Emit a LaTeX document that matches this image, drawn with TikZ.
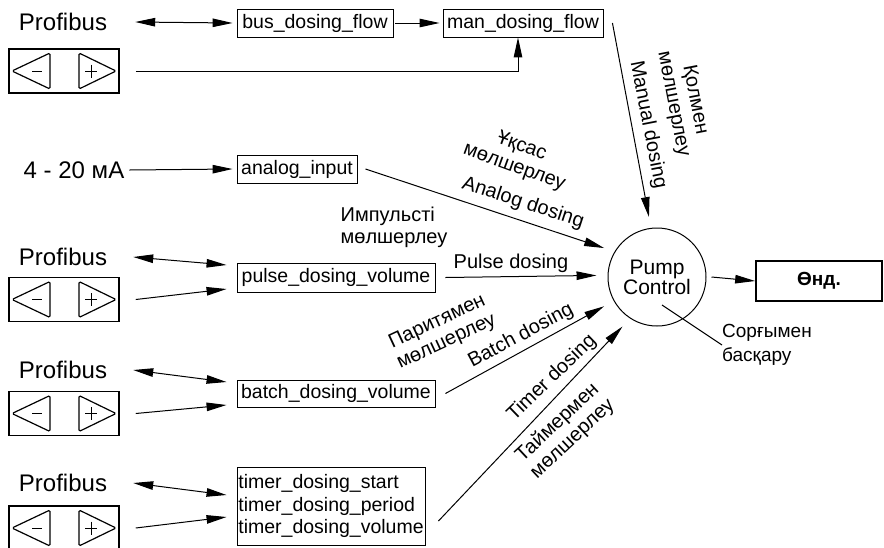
\documentclass[tikz,border=0pt]{standalone}
\usepackage{fontspec}
\setmainfont{Liberation Sans}
\usetikzlibrary{arrows.meta,calc}
\newcommand\kpad[2]{%
 \node[kp] (#1) at #2 {};
 \draw[kptri] ([shift={(-52,0)}]#1.center) -- ([shift={(-14,18)}]#1.center) -- ([shift={(-14,-18)}]#1.center) -- cycle;
 \draw[sign] ([shift={(-32,0)}]#1.center) -- ([shift={(-22,0)}]#1.center);
 \draw[kptri] ([shift={(52,0)}]#1.center) -- ([shift={(15,18)}]#1.center) -- ([shift={(15,-18)}]#1.center) -- cycle;
 \draw[sign] ([shift={(21,0)}]#1.center) -- ([shift={(33,0)}]#1.center) ([shift={(27,6.5)}]#1.center) -- ([shift={(27,-6.5)}]#1.center);
}
\begin{document}
\begin{tikzpicture}[x=1pt,y=1pt,
 lbl/.style={font=\fontsize{20}{22}\selectfont, inner sep=0pt},
 big/.style={font=\fontsize{24}{26}\selectfont, inner sep=0pt},
 box/.style={draw, line width=0.9pt, font=\fontsize{19.5}{22.5}\selectfont, inner sep=0pt, minimum height=28pt},
 kp/.style={draw, line width=1.5pt, minimum width=110pt, minimum height=44pt, inner sep=0pt},
 kptri/.style={line width=1.2pt, rounded corners=1.5pt},
 sign/.style={line width=1pt},
 conn/.style={line width=1pt},
 arr/.style={conn, -{Triangle[length=20pt,width=8.5pt]}},
 dbl/.style={conn, {Triangle[length=20pt,width=8.5pt]}-{Triangle[length=20pt,width=8.5pt]}},
]
\useasboundingbox (0,0) rectangle (884,-547);

% pump control and output
\node[draw, circle, minimum size=98pt, line width=1pt, inner sep=0pt, align=center, font=\fontsize{21}{20}\selectfont] (pc) at (657,-277) {Pump\\Control};
\node[draw, line width=1.7pt, minimum width=126pt, minimum height=40pt, inner sep=0pt, font=\bfseries\fontsize{19}{22}\selectfont] (out) at (819,-281) {Өнд.};
\draw[arr] ([xshift=5]pc.east) -- (out.west);
\node[lbl, align=left, anchor=west, font=\fontsize{19}{24}\selectfont] (sorg) at (722,-345) {Сорғымен\\басқару};
\draw[conn] ([shift={(5,-28)}]pc.center) -- (sorg.west);

% row 1
\node[big] (pb1) at (63,-22) {Profibus};
\kpad{kp1}{(64,-71)}
\node[box, minimum width=156pt] (bus) at (315,-23) {bus\_dosing\_flow};
\node[box, minimum width=160pt] (man) at (523,-23) {man\_dosing\_flow};
\draw[dbl] ([xshift=28]pb1.east) -- ([xshift=-4]bus.west);
\draw[arr] ([xshift=2]bus.east) -- ([xshift=-3]man.west);
\draw[arr] ([xshift=16]kp1.east) -| ([xshift=-5]man.south);
\draw[arr, shorten >=11pt] ([xshift=9]man.east) -- (pc.97.6);
\node[lbl, rotate=-79] (lman) at (648,-125) {Manual dosing};
\node[lbl, rotate=-79, align=center] (lman2) at (684,-102) {Қолмен\\мөлшерлеу};

% analog
\node[big] (ma) at (74,-170) {4 - 20 мА};
\node[box, minimum width=120pt] (analog) at (297,-169) {analog\_input};
\draw[arr] ([xshift=5]ma.east) -- ([xshift=-4]analog.west);
\draw[arr, shorten >=11pt] ([xshift=8]analog.east) -- (pc.149);
\node[lbl, rotate=-18] (lana) at (523,-203) {Analog dosing};
\node[lbl, rotate=-20, align=center] (lana2) at (518,-157) {Ұқсас\\мөлшерлеу};

% pulse
\node[big] (pb2) at (63,-257) {Profibus};
\kpad{kp2}{(64,-299.5)}
\node[box, minimum width=198pt, minimum height=29pt] (pulse) at (336,-277.5) {pulse\_dosing\_volume};
\draw[dbl] ([xshift=26]pb2.east) -- ([shift={(-10,12.5)}]pulse.west);
\draw[arr] ([xshift=16]kp2.east) -- ([shift={(-10,-11.5)}]pulse.west);
\draw[arr, shorten >=11pt] ([xshift=10]pulse.east) -- (pc.178);
\node[lbl] (lpul) at (511,-263) {Pulse dosing};
\node[lbl, align=left] (lpul2) at (394,-227) {Импульсті\\мөлшерлеу};

% batch
\node[big] (pb3) at (63,-370) {Profibus};
\kpad{kp3}{(64,-413.5)}
\node[box, minimum width=198pt, minimum height=27pt] (batch) at (336,-393.5) {batch\_dosing\_volume};
\draw[dbl] ([xshift=26]pb3.east) -- ([shift={(-10,11.5)}]batch.west);
\draw[arr] ([xshift=16]kp3.east) -- ([shift={(-10,-11.5)}]batch.west);
\draw[arr, shorten >=11pt] ([xshift=10]batch.east) -- (pc.209.5);
\node[lbl, rotate=28] (lbat) at (521,-336) {Batch dosing};
\node[lbl, rotate=25, align=center] (lbat2) at (442,-332) {Паритямен\\мөлшерлеу};

% timer
\node[big] (pb4) at (63,-483) {Profibus};
\kpad{kp4}{(64,-528)}
\node[box, minimum width=188pt, minimum height=78pt, align=left] (timer) at (331,-506) {timer\_dosing\_start\\timer\_dosing\_period\\timer\_dosing\_volume};
\draw[dbl] ([xshift=26]pb4.east) -- ([shift={(-10,11)}]timer.west);
\draw[arr] ([xshift=16]kp4.east) -- ([shift={(-10,-11)}]timer.west);
\draw[arr, shorten >=11pt] ([shift={(13,-15)}]timer.east) -- (pc.237.4);
\node[lbl, rotate=44] (ltim) at (552,-378) {Timer dosing};
\node[lbl, rotate=43, align=center] (ltim2) at (565,-431) {Таймермен\\мөлшерлеу};
\end{tikzpicture}
\end{document}
